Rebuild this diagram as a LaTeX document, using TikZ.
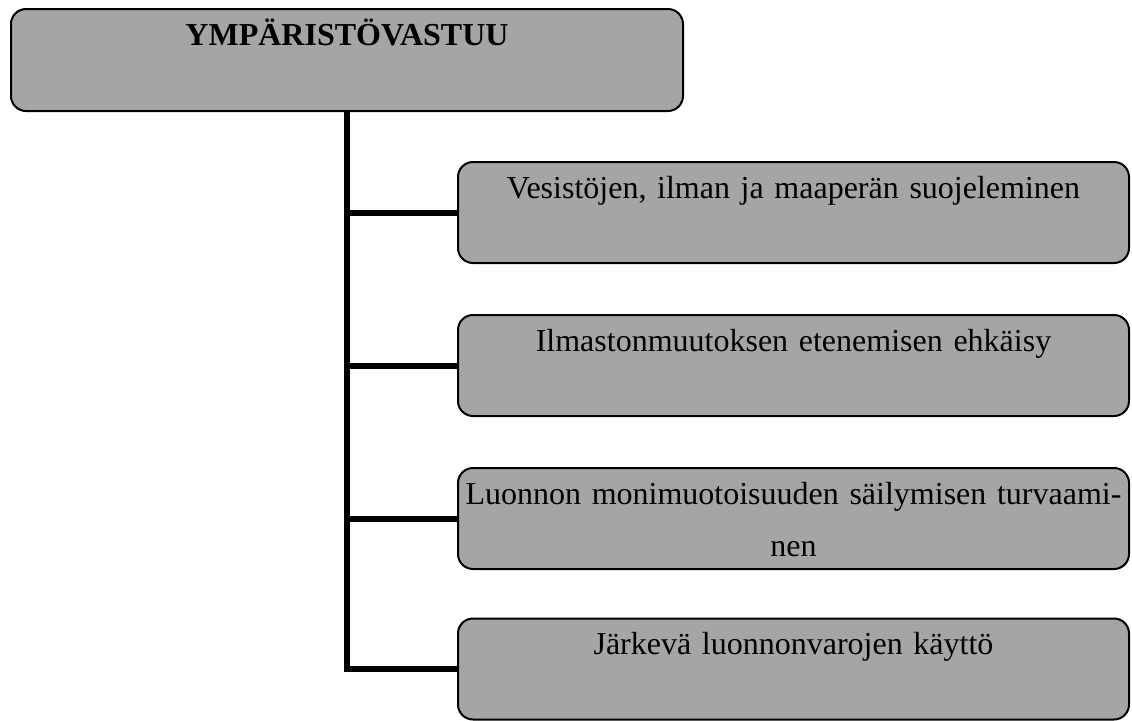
\documentclass[tikz,border=0pt]{standalone}
\usepackage{fontspec}
\setmainfont{Liberation Serif}
\usepackage{tikz}
\usetikzlibrary{
	positioning
	,calc
}
\definecolor{boxgrey}{RGB}{165,165,165}
\newcommand{\treeedge}[3][]{
	\draw[link,#1] (#2) |- (#3);
}
\tikzset{
	box/.style={
		draw,
		rectangle,
		rounded corners=7.5pt,
		fill=boxgrey,
		line width=1pt,
		minimum height=50.5pt,
		inner sep=0pt,
	},
	boxtext/.style={
		anchor=base,
		inner sep=0pt,
		text width=340pt,
		align=center,
		font=\fontsize{16}{26}\selectfont,
	},
	link/.style={
		line width=3pt,
		black,
	}
}

\begin{document}
\begin{tikzpicture}[x=0.5pt,y=-0.5pt]
        \useasboundingbox (0,0) rectangle (1132,720);

        \node[box,minimum width=336pt,minimum height=51pt](env) at(347,60){};
        \node[boxtext,font=\fontsize{16}{26}\selectfont\bfseries](env-t) at([yshift=-18.5pt]env.north){YMPÄRISTÖVASTUU};

        \begin{scope}[every node/.append style={minimum width=335.5pt}]
            \node[box](v1) at(793.5,212.5){};
            \node[box](v2) at(793.5,365.5){};
            \node[box](v3) at(793.5,518.5){};
            \node[box](v4) at(793.5,669){};
        \end{scope}

        \node[boxtext](v1-t) at([yshift=-18.5pt]v1.north){Vesistöjen, ilman ja maaperän suojeleminen};
        \node[boxtext](v2-t) at([yshift=-18.5pt]v2.north){Ilmastonmuutoksen etenemisen ehkäisy};
        \node[boxtext](v3-t) at([yshift=-18.5pt]v3.north){Luonnon monimuotoisuuden säilymisen turvaami-\\nen};
        \node[boxtext](v4-t) at([yshift=-18.5pt]v4.north){Järkevä luonnonvarojen käyttö};

        \foreach \v in{
            1,2,3,4%
        }{
            \treeedge{env.south}{v\v.west};
        }

\end{tikzpicture}
\end{document}
